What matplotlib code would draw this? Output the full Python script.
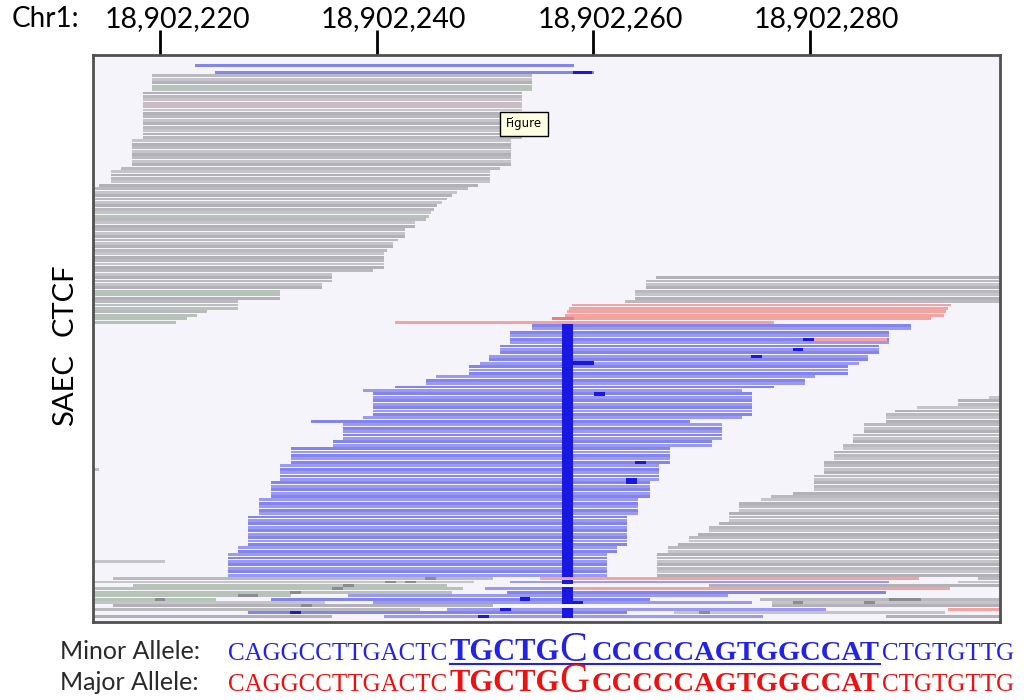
import matplotlib
matplotlib.use("Agg")
import matplotlib.pyplot as plt
from matplotlib.lines import Line2D
from matplotlib.transforms import ScaledTranslation

# ---------------------------------------------------------------
# Genomic frame (positions are offsets from BASE, in bp)
# ---------------------------------------------------------------
CHROM = "Chr1:"
BASE = 18902200
READ_LEN = 35.0
SNP_POS = 57.1           # left edge of the variant base
X_MIN, X_MAX = 13.81, 97.56
ROW_MIN, ROW_MAX = -3.1, 162.7

tick_positions = [20, 40, 60, 80]
tick_labels = ["18,902,220", "18,902,240", "18,902,260", "18,902,280"]

# ---------------------------------------------------------------
# Read pileup: runs of (first_row, last_row, start) for full-length reads
# ---------------------------------------------------------------
blue_top = [(0, 0, 23.2), (2, 2, 25.1)]

gray_left = [
    (3, 7, 19.3), (8, 21, 18.4), (22, 29, 17.4), (30, 30, 16.4), (31, 34, 15.5),
    (35, 35, 14.4), (36, 36, 13.4), (37, 37, 12.4), (38, 38, 12.0), (39, 39, 11.5),
    (40, 40, 11.0), (41, 41, 10.6), (42, 42, 10.3), (43, 43, 10.0), (44, 44, 9.8),
    (45, 45, 9.6), (46, 47, 8.5), (48, 50, 7.6), (51, 51, 7.0), (52, 53, 6.5),
    (54, 54, 6.0), (55, 59, 5.7), (60, 60, 4.7), (61, 63, 0.9), (64, 65, 0.0),
    (66, 68, -3.9), (69, 71, -7.8), (72, 72, -10.7), (73, 73, -11.6),
    (74, 74, -12.5), (75, 75, -13.5),
]

gray_right_upper = [(62, 62, 65.8), (63, 65, 64.9), (66, 68, 63.9), (69, 69, 62.9)]

pink_upper = [(70, 70, 58.0), (71, 71, 57.8), (72, 72, 57.6), (73, 73, 57.4),
              (74, 74, 56.2), (75, 75, 41.7)]

blue_main = [
    (76, 77, 54.3), (78, 81, 52.3), (82, 84, 51.4), (85, 86, 50.4), (87, 87, 49.5),
    (88, 90, 48.5), (91, 91, 45.5), (92, 93, 44.6), (94, 94, 41.7), (95, 95, 38.7),
    (96, 102, 39.7), (103, 103, 38.7), (104, 104, 33.9), (105, 109, 36.9),
    (110, 111, 36.0), (112, 116, 32.1), (117, 121, 31.1), (122, 126, 30.2),
    (127, 131, 29.1), (132, 140, 28.1), (141, 142, 27.2), (143, 149, 26.3),
]

gray_right_lower = [
    (97, 97, 96.5), (98, 99, 93.7), (100, 100, 89.9), (101, 101, 87.9),
    (102, 104, 87.0), (105, 107, 85.0), (108, 110, 84.0), (111, 112, 83.1),
    (113, 115, 82.2), (116, 119, 81.3), (120, 124, 80.4), (125, 125, 78.4),
    (126, 126, 76.4), (127, 127, 75.5), (128, 130, 73.5), (131, 133, 72.5),
    (134, 134, 71.6), (135, 136, 70.7), (137, 137, 69.7), (138, 139, 68.8),
    (140, 140, 67.8), (141, 142, 66.9), (143, 149, 65.9),
]

# Partially visible / clipped reads: (row, start, end, kind)
extra_reads = [
    (118, 13.8, 14.4, "gg"), (145, 13.8, 20.5, "g"), (80, 80.3, 87.1, "p"),
    (150, 15.7, 50.7, "g"), (150, 55.1, 90.1, "p"), (150, 95.5, 97.6, "g"),
    (151, 14.0, 49.0, "g"), (151, 52.3, 87.3, "b"), (151, 93.7, 97.6, "g"),
    (152, 17.5, 46.5, "gg"), (152, 70.7, 97.6, "g"),
    (153, 13.8, 48.0, "gg"), (153, 50.0, 58.1, "b"), (153, 58.1, 92.9, "p"),
    (154, 13.8, 47.0, "gg"), (154, 52.0, 87.0, "b"),
    (155, 13.8, 32.1, "gg"), (155, 37.4, 72.4, "b"),
    (156, 13.8, 25.2, "gg"), (156, 30.2, 65.2, "b"), (156, 75.4, 97.6, "g"),
    (157, 13.8, 35.2, "g"), (157, 39.7, 74.7, "b"), (157, 76.5, 97.6, "g"),
    (158, 15.7, 50.7, "g"), (158, 76.5, 97.6, "g"),
    (159, 13.8, 44.0, "g"), (159, 46.5, 81.5, "b"), (159, 92.8, 97.6, "p"),
    (160, 28.1, 63.1, "b"), (160, 67.5, 92.5, "g"),
    (161, 13.8, 35.9, "g"), (161, 40.7, 75.7, "b"), (161, 87.0, 97.6, "g"),
]

# Mismatched bases: (row, position, width)
blue_mismatches = [
    (80, 79.4, 1.0), (83, 78.4, 1.0), (85, 74.6, 1.0), (87, 58.1, 2.0),
    (96, 60.1, 1.0), (116, 63.9, 1.0), (121, 63.0, 1.0), (122, 63.0, 1.0),
    (156, 53.2, 1.0), (159, 51.4, 1.0), (160, 32.0, 1.0), (161, 49.4, 1.0),
    (157, 58.1, 1.0), (2, 58.1, 1.8),
]
gray_mismatches = [
    (150, 44.5, 1.0), (151, 40.8, 1.0), (151, 42.6, 1.0), (152, 36.9, 1.0),
    (153, 35.9, 1.0), (154, 32.0, 1.0), (155, 27.2, 1.8), (156, 19.5, 1.0),
    (156, 87.3, 3.0), (157, 78.4, 1.0), (157, 85.0, 1.0), (158, 33.0, 1.0),
    (160, 69.8, 1.0),
]
pink_mismatches = [(74, 56.2, 2.0)]

green_rows = {6, 7, 44, 66, 67, 70, 71, 73, 74, 75}
pinkish_rows = {11, 12}

# ---------------------------------------------------------------
# Sequence annotation below the pileup
# ---------------------------------------------------------------
seq_left = "CAGGCCTTGACTC"
seq_core_a = "TGCTG"
seq_core_b = "CCCCCAGTGGCCAT"
seq_right = "CTGTGTTG"
minor_base = "C"
major_base = "G"

GRAY_SHADES = ["#b9b9be", "#c5c4c9", "#b1b1b7"]
GREEN_GRAY = "#b7c2b8"
PINK_GRAY = "#cbbcc4"
BLUE_SHADES = ["#8484ee", "#9a9af3"]
PINK = "#f5a2a2"
DARK_BLUE = "#1818e0"
DARK_GRAY = "#8c8c90"
DARK_PINK = "#e98080"
BG = "#f5f4fb"
TXT_BLUE = "#2323e6"
TXT_RED = "#ee1111"


def read_color(kind, row, start):
    if kind == "b":
        return BLUE_SHADES[row % 2]
    if kind == "p":
        return PINK
    if kind == "gg" or (row in green_rows and start < 30):
        return GREEN_GRAY
    if row in pinkish_rows:
        return PINK_GRAY
    return GRAY_SHADES[row % 3]


reads = []
for runs, kind in [(blue_top, "b"), (gray_left, "g"), (gray_right_upper, "g"),
                   (pink_upper, "p"), (blue_main, "b"), (gray_right_lower, "g")]:
    for r0, r1, start in runs:
        for r in range(r0, r1 + 1):
            reads.append((r, start, start + READ_LEN, kind))
reads += extra_reads

fig = plt.figure(figsize=(10.24, 7.0), dpi=100)
fig.patch.set_facecolor("white")
ax = fig.add_axes([93 / 1024, 1 - 622 / 700, 907 / 1024, 567 / 700])
ax.set_facecolor(BG)

rows = [r for r, s, e, k in reads]
lefts = [s for r, s, e, k in reads]
widths = [e - s for r, s, e, k in reads]
cols = [read_color(k, r, s) for r, s, e, k in reads]
ax.barh(rows, widths, left=lefts, height=0.84, color=cols, linewidth=0)

# variant base on every minor-allele read that spans it
snp_rows = [r for r, s, e, k in reads
            if k == "b" and r > 2 and s <= SNP_POS and e >= SNP_POS + 1.0]
ax.barh(snp_rows, [1.0] * len(snp_rows), left=SNP_POS, height=1.0,
        color=DARK_BLUE, linewidth=0)

for marks, c, h in [(blue_mismatches, DARK_BLUE, 0.95), (gray_mismatches, DARK_GRAY, 0.84),
                    (pink_mismatches, DARK_PINK, 0.84)]:
    ax.barh([m[0] for m in marks], [m[2] for m in marks], left=[m[1] for m in marks],
            height=h, color=c, linewidth=0)

ax.set_xlim(X_MIN, X_MAX)
ax.set_ylim(ROW_MAX, ROW_MIN)
ax.set_yticks([])
ax.xaxis.tick_top()
ax.set_xticks(tick_positions)
ax.set_xticklabels(tick_labels, fontfamily="Lato", fontsize=20.5)
ax.tick_params(axis="x", which="both", top=True, bottom=False, length=18, width=2,
               color="black", pad=1)
label_shift = ScaledTranslation(17 / 100, -3 / 100, fig.dpi_scale_trans)
for lab in ax.get_xticklabels():
    lab.set_transform(lab.get_transform() + label_shift)
for sp in ax.spines.values():
    sp.set_color("#505050")
    sp.set_linewidth(2)


def fx(x):
    return x / 1024


def fy(y):
    return 1 - y / 700


fig.text(fx(12), fy(19), CHROM, fontfamily="Lato", fontsize=20, va="center", ha="left")

fig.text(fx(65), fy(300), "CTCF", fontfamily="Lato", fontsize=21, rotation=90,
         va="center", ha="center")
fig.text(fx(65), fy(390), "SAEC", fontfamily="Lato", fontsize=21, rotation=90,
         va="center", ha="center")

fig.text(fx(524), fy(124), "Figure", fontfamily="DejaVu Sans", fontsize=8.5,
         va="center", ha="center",
         bbox=dict(boxstyle="square,pad=0.5", fc="#ffffe1", ec="black", lw=1))

# allele sequences
for label, base, color, baseline in [("Minor Allele:", minor_base, TXT_BLUE, 660),
                                     ("Major Allele:", major_base, TXT_RED, 691)]:
    fig.text(fx(60), fy(baseline - 1), label, fontfamily="Lato", fontsize=18,
             color="#2a2a2a", va="baseline", ha="left")
    fig.text(fx(228), fy(baseline), seq_left, fontfamily="Liberation Serif", fontsize=18,
             color=color, va="baseline", ha="left")
    fig.text(fx(449), fy(baseline), seq_core_a, fontfamily="Liberation Serif",
             fontweight="bold", fontsize=22, color=color, va="baseline", ha="left")
    fig.text(fx(559), fy(baseline + 1), base, fontfamily="Liberation Serif", fontsize=30,
             color=color, va="baseline", ha="left")
    fig.text(fx(592), fy(baseline), seq_core_b, fontfamily="Liberation Serif",
             fontweight="bold", fontsize=20.5, color=color, va="baseline", ha="left")
    fig.text(fx(882), fy(baseline), seq_right, fontfamily="Liberation Serif", fontsize=18,
             color=color, va="baseline", ha="left")

fig.add_artist(Line2D([fx(450), fx(880)], [fy(664), fy(664)], color=TXT_BLUE, lw=1.5))

fig.savefig("out.png", dpi=100)
